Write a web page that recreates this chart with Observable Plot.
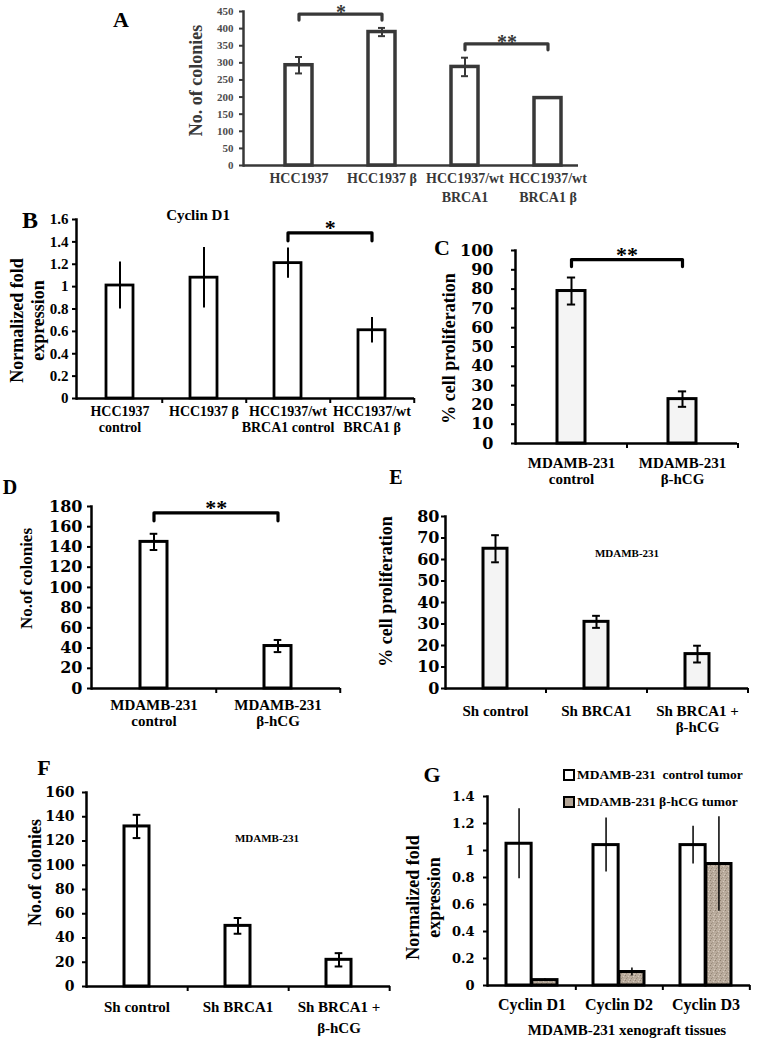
<!DOCTYPE html>
<html><head><meta charset="utf-8">
<script src="https://cdn.jsdelivr.net/npm/d3@7"></script>
<script src="https://cdn.jsdelivr.net/npm/@observablehq/plot@0.6"></script>
<style>
body{margin:0;background:#fff;}
#fig{position:relative;width:757px;height:1041px;overflow:hidden;font-family:"Liberation Serif","Times New Roman",serif;font-weight:bold;color:#000;}
.abs{position:absolute;white-space:pre;line-height:1;}
.c{transform:translate(-50%,-50%);}
.sw{position:absolute;width:8px;height:8px;border:2.5px solid #000;}
</style></head><body>
<svg width="0" height="0" style="position:absolute">
  <defs>
    <pattern id="speckle" width="5" height="5" patternUnits="userSpaceOnUse">
      <rect width="5" height="5" fill="#b9ab9c"></rect>
      <rect x="0" y="0" width="1" height="1" fill="#8f8172"></rect>
      <rect x="3" y="1" width="1" height="1" fill="#d6cbbf"></rect>
      <rect x="1" y="3" width="1" height="1" fill="#978a7c"></rect>
      <rect x="4" y="4" width="1" height="1" fill="#d2c7ba"></rect>
      <rect x="2" y="2" width="1" height="1" fill="#a49686"></rect>
    </pattern>
  </defs>
</svg>
<div id="fig"></div>
<script>
// ---------- data ----------
const catsA = ["HCC1937", "HCC1937 β", "HCC1937/wt\nBRCA1", "HCC1937/wt\nBRCA1 β"];
const valsA = [293, 390, 288, 197];
const errsA = [24, 12, 27, 0];
const ticksA = [0, 50, 100, 150, 200, 250, 300, 350, 400, 450];
const sigA = [[0, 1, "*"], [2, 3, "**"]];

const catsB = ["HCC1937\ncontrol", "HCC1937 β", "HCC1937/wt\nBRCA1 control", "HCC1937/wt\nBRCA1 β"];
const valsB = [1.01, 1.08, 1.21, 0.61];
const errsB = [0.21, 0.27, 0.135, 0.115];
const ticksB = [0, 0.2, 0.4, 0.6, 0.8, 1, 1.2, 1.4, 1.6];
const sigB = [[2, 3, "*"]];

const catsC = ["MDAMB-231\ncontrol", "MDAMB-231\nβ-hCG"];
const valsC = [79, 23];
const errsC = [7, 4];
const ticksC = [0, 10, 20, 30, 40, 50, 60, 70, 80, 90, 100];
const sigC = [[0, 1, "**"]];

const catsD = ["MDAMB-231\ncontrol", "MDAMB-231\nβ-hCG"];
const valsD = [145, 42];
const errsD = [8, 6];
const ticksD = [0, 20, 40, 60, 80, 100, 120, 140, 160, 180];
const sigD = [[0, 1, "**"]];

const catsE = ["Sh control", "Sh BRCA1", "Sh BRCA1 +\nβ-hCG"];
const valsE = [65, 31, 16];
const errsE = [6.3, 2.8, 3.9];
const ticksE = [0, 10, 20, 30, 40, 50, 60, 70, 80];

const catsF = ["Sh control", "Sh BRCA1", "Sh BRCA1 +\nβ-hCG"];
const valsF = [132, 50, 22];
const errsF = [9.6, 6.5, 5.5];
const ticksF = [0, 20, 40, 60, 80, 100, 120, 140, 160];

const catsG = ["Cyclin D1", "Cyclin D2", "Cyclin D3"];
const ctrlG = [1.05, 1.04, 1.04];
const ctrlErrG = [0.26, 0.2, 0.14];
const betaG = [0.04, 0.10, 0.90];
const betaErrG = [0.01, 0.03, 0.35];
const ticksG = [0, 0.2, 0.4, 0.6, 0.8, 1, 1.2, 1.4];
const legendG = ["MDAMB-231  control tumor", "MDAMB-231 β-hCG tumor"];

// ---------- helpers ----------
const fig = document.getElementById("fig");
function label(text, x, y, size, extra = "") {
  const d = document.createElement("div");
  d.className = "abs c";
  d.style.cssText += `left:${x}px;top:${y}px;font-size:${size}px;${extra}`;
  d.textContent = text;
  fig.appendChild(d);
  return d;
}

function drawPanel(p) {
  const [bx, by, bw, bh] = p.box;
  const [fx0, fy0, fx1, fy1] = p.frame;
  const n = p.cats.length;
  const step = (fx1 - fx0) / (n - p.pI + 2 * p.pO);
  const band = step * (1 - p.pI);
  const ppu = (fy1 - fy0) / p.yMax;
  const ink = p.ink || "#000";
  const k = p.series.length;
  const sub = band / k;
  const marks = [];
  p.series.forEach((s, j) => {
    const rows = p.cats.map((c, i) => ({c, v: s.values[i], e: s.errs[i]}));
    const off = -band / 2 + sub * (j + 0.5);
    marks.push(Plot.barY(rows, {x: "c", y: "v", fill: s.fill, stroke: ink, strokeWidth: p.barStroke,
      insetLeft: j * sub, insetRight: (k - 1 - j) * sub}));
    const withErr = rows.filter(d => d.e > 0);
    marks.push(Plot.ruleX(withErr, {x: "c", y1: d => d.v - d.e, y2: d => d.v + d.e, stroke: ink, strokeWidth: p.errStroke, dx: off}));
    if (p.cap) {
      const ends = withErr.flatMap(d => [{c: d.c, y: d.v - d.e}, {c: d.c, y: d.v + d.e}]);
      marks.push(Plot.tickY(ends, {x: "c", y: "y", stroke: ink, strokeWidth: p.errStroke,
        insetLeft: (band - p.cap) / 2, insetRight: (band - p.cap) / 2}));
    }
  });
  marks.push(Plot.ruleY([0], {stroke: ink, strokeWidth: p.axisStroke}));
  marks.push(Plot.frame({anchor: "left", stroke: ink, strokeWidth: p.axisStroke}));
  if (p.boundaryTicks) {
    marks.push(Plot.ruleX(p.cats, {x: d => d, dx: step / 2, y1: 0, y2: -5 / ppu, stroke: ink, strokeWidth: 2}));
  }
  marks.push(Plot.axisY({ticks: p.yTicks, tickFormat: d3.format("~g"), tickSize: 4, tickPadding: p.tickPad,
    fontSize: p.tickFont, fontFamily: p.tickFamily, fill: p.tickColor || ink, stroke: ink, strokeWidth: 2, label: null}));
  marks.push(Plot.axisX({tickSize: 0, tickPadding: p.xPad, fontSize: p.xFont, lineHeight: p.xLine, fill: ink, label: null}));
  marks.push(Plot.text([p.yLabel], {text: d => d, frameAnchor: "left", rotate: -90,
    dx: p.yLabelX - fx0, dy: p.yLabelY - (fy0 + fy1) / 2, textAnchor: "middle", lineAnchor: "middle",
    fontSize: p.yLabelSize, lineHeight: 1.2, fill: ink}));
  if (p.sigs) {
    const legU = p.legPx / ppu;
    const sigRows = p.sigs.map(([ia, ib, lab], id) => {
      const top = d3.max(p.series, se => Math.max(se.values[ia] + se.errs[ia], se.values[ib] + se.errs[ib]));
      return {id, a: p.cats[ia], b: p.cats[ib], label: lab, level: top + p.sigGap * p.yMax};
    });
    const pts = sigRows.flatMap(s => [
      {id: s.id, c: s.a, y: s.level - legU}, {id: s.id, c: s.a, y: s.level},
      {id: s.id, c: s.b, y: s.level}, {id: s.id, c: s.b, y: s.level - legU}]);
    marks.push(Plot.line(pts, {x: "c", y: "y", z: "id", stroke: ink, strokeWidth: 3.2, strokeLinejoin: "round", strokeLinecap: "round"}));
    marks.push(Plot.text(sigRows, {x: "a", y: "level", text: "label", dx: step / 2, dy: p.starDy ?? -5,
      fontSize: p.starSize ?? 22, fill: ink}));
  }
  const svg = Plot.plot({
    width: bw, height: bh,
    marginLeft: fx0 - bx, marginRight: bx + bw - fx1, marginTop: fy0 - by, marginBottom: by + bh - fy1,
    x: {domain: p.cats, paddingInner: p.pI, paddingOuter: p.pO, align: p.align ?? 0.5},
    y: {domain: [0, p.yMax]},
    style: {background: "transparent", overflow: "visible", fontFamily: "Liberation Serif, Times New Roman, serif",
      fontWeight: "bold", color: "#000", position: "absolute", left: bx + "px", top: by + "px", maxWidth: "none"},
    marks
  });
  fig.appendChild(svg);
}

const common = {barStroke: 3, errStroke: 2, cap: 8, axisStroke: 2.5, boundaryTicks: true,
  tickFamily: "DejaVu Serif", xFont: 15, xLine: 1.13, yLabelSize: 18, sigGap: 0.09, legPx: 7};

// A
drawPanel({...common, box: [100, 0, 657, 215], frame: [243, 11, 578, 165], cats: catsA, yMax: 450, yTicks: ticksA,
  pI: 0.678, pO: 0.339, align: 0.71, ink: "#383838", barStroke: 3.5, cap: 7, boundaryTicks: false,
  series: [{values: valsA, errs: errsA, fill: "#fff"}],
  tickFont: 11, tickFamily: "Liberation Serif", tickColor: "#4d4d4d", tickPad: 6, xPad: 4, xFont: 14, xLine: 1.36,
  yLabel: "No. of colonies", yLabelX: 195, yLabelY: 80, sigs: sigA, sigGap: 0.09, legPx: 6, starDy: -1, starSize: 20});
// B
drawPanel({...common, box: [0, 200, 430, 240], frame: [76, 219, 414, 398], cats: catsB, yMax: 1.6, yTicks: ticksB,
  pI: 0.68, pO: 0.34, barStroke: 2.8, cap: 0,
  series: [{values: valsB, errs: errsB, fill: "#fff"}],
  tickFont: 15, tickFamily: "Liberation Serif", tickPad: 4, xPad: 6, xFont: 14, xLine: 1.15,
  yLabel: "Normalized fold\nexpression", yLabelX: 26, yLabelY: 320, sigs: sigB, sigGap: 0.085, legPx: 8});
// C
drawPanel({...common, box: [430, 230, 327, 260], frame: [515, 250, 737, 443], cats: catsC, yMax: 100, yTicks: ticksC,
  pI: 0.75, pO: 0.375, series: [{values: valsC, errs: errsC, fill: "#f4f4f4"}],
  tickFont: 16, tickPad: 18, xPad: 12,
  yLabel: "% cell proliferation", yLabelX: 448, yLabelY: 348, sigs: sigC, sigGap: 0.093});
// D
drawPanel({...common, box: [0, 480, 380, 260], frame: [91, 506, 340, 688], cats: catsD, yMax: 180, yTicks: ticksD,
  pI: 0.78, pO: 0.39, series: [{values: valsD, errs: errsD, fill: "#fff"}],
  tickFont: 16, tickPad: 5, xPad: 9,
  yLabel: "No.of colonies", yLabelX: 25, yLabelY: 578, yLabelSize: 17, sigs: sigD, sigGap: 0.115, legPx: 8});
// E
drawPanel({...common, box: [380, 490, 377, 260], frame: [445, 516, 748, 688], cats: catsE, yMax: 80, yTicks: ticksE,
  pI: 0.76, pO: 0.38, series: [{values: valsE, errs: errsE, fill: "#f4f4f4"}],
  tickFont: 16, tickPad: 2, xPad: 15,
  yLabel: "% cell proliferation", yLabelX: 385, yLabelY: 591});
// F
drawPanel({...common, box: [0, 760, 400, 281], frame: [86, 792, 390, 986], cats: catsF, yMax: 160, yTicks: ticksF,
  pI: 0.75, pO: 0.375, series: [{values: valsF, errs: errsF, fill: "#fff"}],
  tickFont: 14, tickPad: 8, xPad: 11, xLine: 1.4,
  yLabel: "No.of colonies", yLabelX: 34, yLabelY: 872});
// G
drawPanel({...common, box: [380, 760, 377, 281], frame: [487, 796, 750, 985], cats: catsG, yMax: 1.4, yTicks: ticksG,
  pI: 0.41, pO: 0.205, cap: 0, errStroke: 1.5,
  series: [{values: ctrlG, errs: ctrlErrG, fill: "#fff"}, {values: betaG, errs: betaErrG, fill: "url(#speckle)"}],
  tickFont: 13, tickPad: 9, xPad: 12, xFont: 16,
  yLabel: "Normalized fold\nexpression", yLabelX: 422, yLabelY: 897});

// ---------- panel letters & annotations ----------
label("A", 121, 20, 22);
label("B", 30, 220, 24);
label("C", 442, 248, 22);
label("D", 10, 487, 20);
label("E", 396, 477, 20);
label("F", 44, 768, 22);
label("G", 432, 775, 22);
label("Cyclin D1", 198, 215, 15);
label("MDAMB-231", 627, 553, 11);
label("MDAMB-231", 267, 838, 11);
label("MDAMB-231 xenograft tissues", 627, 1030, 15);
const swFills = ["#fff", "url(#speckle)"];
legendG.forEach((t, i) => {
  const y = 775 + i * 27;
  const sw = document.createElement("div");
  sw.className = "sw";
  sw.style.left = "563px"; sw.style.top = (y - 6.5) + "px";
  sw.style.background = i === 0 ? "#fff" : "#b3a596";
  fig.appendChild(sw);
  const d = document.createElement("div");
  d.className = "abs";
  d.style.cssText += `left:577px;top:${y - 7}px;font-size:13.5px;`;
  d.textContent = t;
  fig.appendChild(d);
});
</script>
</body></html>
